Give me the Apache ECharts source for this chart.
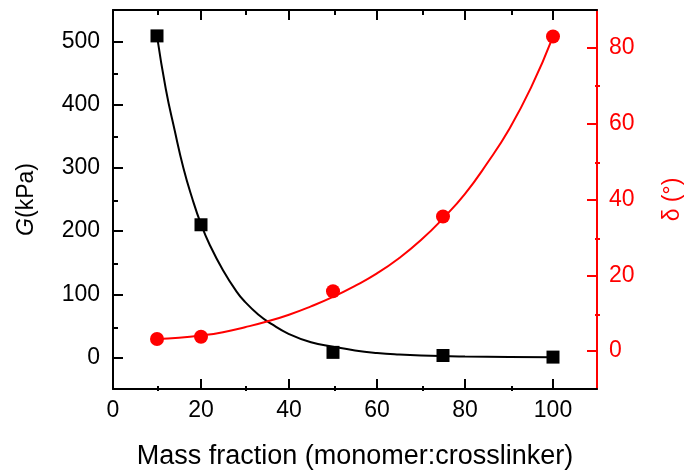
<!DOCTYPE html>
<html>
<head>
<meta charset="utf-8">
<script src="https://cdn.jsdelivr.net/npm/echarts@6/dist/echarts.min.js"></script>
<style>html,body{margin:0;padding:0;background:#fff}#c{width:692px;height:475px}</style>
</head>
<body>
<div id="c"></div>
<script>
// Measured points
const massFraction = [10, 20, 50, 75, 100];
const gValues = [509, 210, 8, 3, 0.5];
const deltaValues = [3.2, 3.8, 15.8, 35.5, 83];
// Fitted curves
const gFitX = [10, 12, 14, 16, 18, 20, 22, 25, 28, 30, 33, 36, 40, 45, 50, 55, 60, 65, 70, 80, 90, 100];
const gFitY = [509, 425, 360, 300, 252, 211, 178, 138, 105, 88, 68, 53, 37, 24, 17, 11, 7, 4.5, 3, 1.5, 0.8, 0.4];
const dFitX = [10, 15, 20, 25, 30, 35, 40, 45, 50, 55, 60, 65, 70, 75, 80, 85, 90, 95, 100];
const dFitY = [3.2, 3.5, 4.1, 5.0, 6.3, 7.8, 9.6, 11.8, 14.3, 17.2, 20.5, 24.5, 29.3, 35, 41.5, 49.5, 58.5, 69.5, 83];
// Ticks
const xMajor = [0, 20, 40, 60, 80, 100];
const xMinor = [10, 30, 50, 70, 90];
const gMajor = [0, 100, 200, 300, 400, 500];
const gMinor = [50, 150, 250, 350, 450];
const dMajor = [0, 20, 40, 60, 80];
const dMinor = [10, 30, 50, 70];

const FONT = 'Liberation Sans, Arial, sans-serif';
const RED = '#ff0000';
const TICK_FS = 23;

function pair(xs, ys) { return xs.map((x, i) => [x, ys[i]]); }

function xAx(grid, pos, ticks, len, showLine, opts) {
  return Object.assign({
    type: 'value', gridIndex: grid, position: pos, min: 0, max: 110,
    axisLine: { show: showLine, onZero: false, lineStyle: { color: '#000', width: 2 } },
    axisTick: { show: true, inside: true, length: len, customValues: ticks, lineStyle: { color: '#000', width: 2 } },
    axisLabel: { show: false },
    splitLine: { show: false }
  }, opts || {});
}
function yAx(grid, pos, min, max, ticks, len, color, showLine, opts) {
  return Object.assign({
    type: 'value', gridIndex: grid, position: pos, min: min, max: max,
    axisLine: { show: showLine, onZero: false, lineStyle: { color: color, width: 2 } },
    axisTick: { show: true, inside: true, length: len, customValues: ticks, lineStyle: { color: color, width: 2 } },
    axisLabel: { show: false },
    splitLine: { show: false }
  }, opts || {});
}

const gridBox = { left: 113, right: 92, top: 10, bottom: 84 };
const chart = echarts.init(document.getElementById('c'), null, { renderer: 'canvas' });
chart.setOption({
  animation: false,
  backgroundColor: '#fff',
  grid: [Object.assign({}, gridBox), Object.assign({}, gridBox)],
  xAxis: [
    xAx(0, 'bottom', xMajor, 10, true, {
      name: 'Mass fraction (monomer:crosslinker)', nameLocation: 'middle', nameGap: 54,
      nameTextStyle: { fontFamily: FONT, fontSize: 27, color: '#000' },
      axisLabel: { show: true, customValues: xMajor, margin: 10, fontFamily: FONT, fontSize: TICK_FS, color: '#000' }
    }),
    xAx(0, 'top', xMajor, 10, true),
    xAx(1, 'bottom', xMinor, 5, false),
    xAx(1, 'top', xMinor, 5, false)
  ],
  yAxis: [
    yAx(0, 'left', -50, 550, gMajor, 10, '#000', true, {
      name: '{i|G}(kPa)', nameLocation: 'middle', nameGap: 75, nameRotate: 90,
      nameTextStyle: { fontFamily: FONT, fontSize: 23, color: '#000',
        rich: { i: { fontFamily: FONT, fontSize: 23, fontStyle: 'italic', color: '#000' } } },
      axisLabel: { show: true, customValues: gMajor, margin: 13, fontFamily: FONT, fontSize: TICK_FS, color: '#000' }
    }),
    yAx(0, 'right', -10, 90, dMajor, 10, RED, true, {
      name: 'δ (°)', nameLocation: 'middle', nameGap: 64, nameRotate: 90,
      nameTextStyle: { fontFamily: FONT, fontSize: 23, color: RED },
      axisLabel: { show: true, customValues: dMajor, margin: 12, fontFamily: FONT, fontSize: TICK_FS, color: RED }
    }),
    yAx(1, 'left', -50, 550, gMinor, 5, '#000', false),
    yAx(1, 'right', -10, 90, dMinor, 5, RED, false)
  ],
  series: [
    { type: 'line', xAxisIndex: 0, yAxisIndex: 0, data: pair(gFitX, gFitY), smooth: true, symbol: 'none',
      lineStyle: { color: '#000', width: 2 }, z: 2 },
    { type: 'line', xAxisIndex: 0, yAxisIndex: 1, data: pair(dFitX, dFitY), smooth: true, symbol: 'none',
      lineStyle: { color: RED, width: 2 }, z: 2 },
    { type: 'scatter', xAxisIndex: 0, yAxisIndex: 0, data: pair(massFraction, gValues), symbol: 'rect', symbolSize: 13,
      itemStyle: { color: '#000', opacity: 1 }, z: 3 },
    { type: 'scatter', xAxisIndex: 0, yAxisIndex: 1, data: pair(massFraction, deltaValues), symbol: 'circle', symbolSize: 14,
      itemStyle: { color: RED, opacity: 1 }, z: 3 }
  ]
});
</script>
</body>
</html>
